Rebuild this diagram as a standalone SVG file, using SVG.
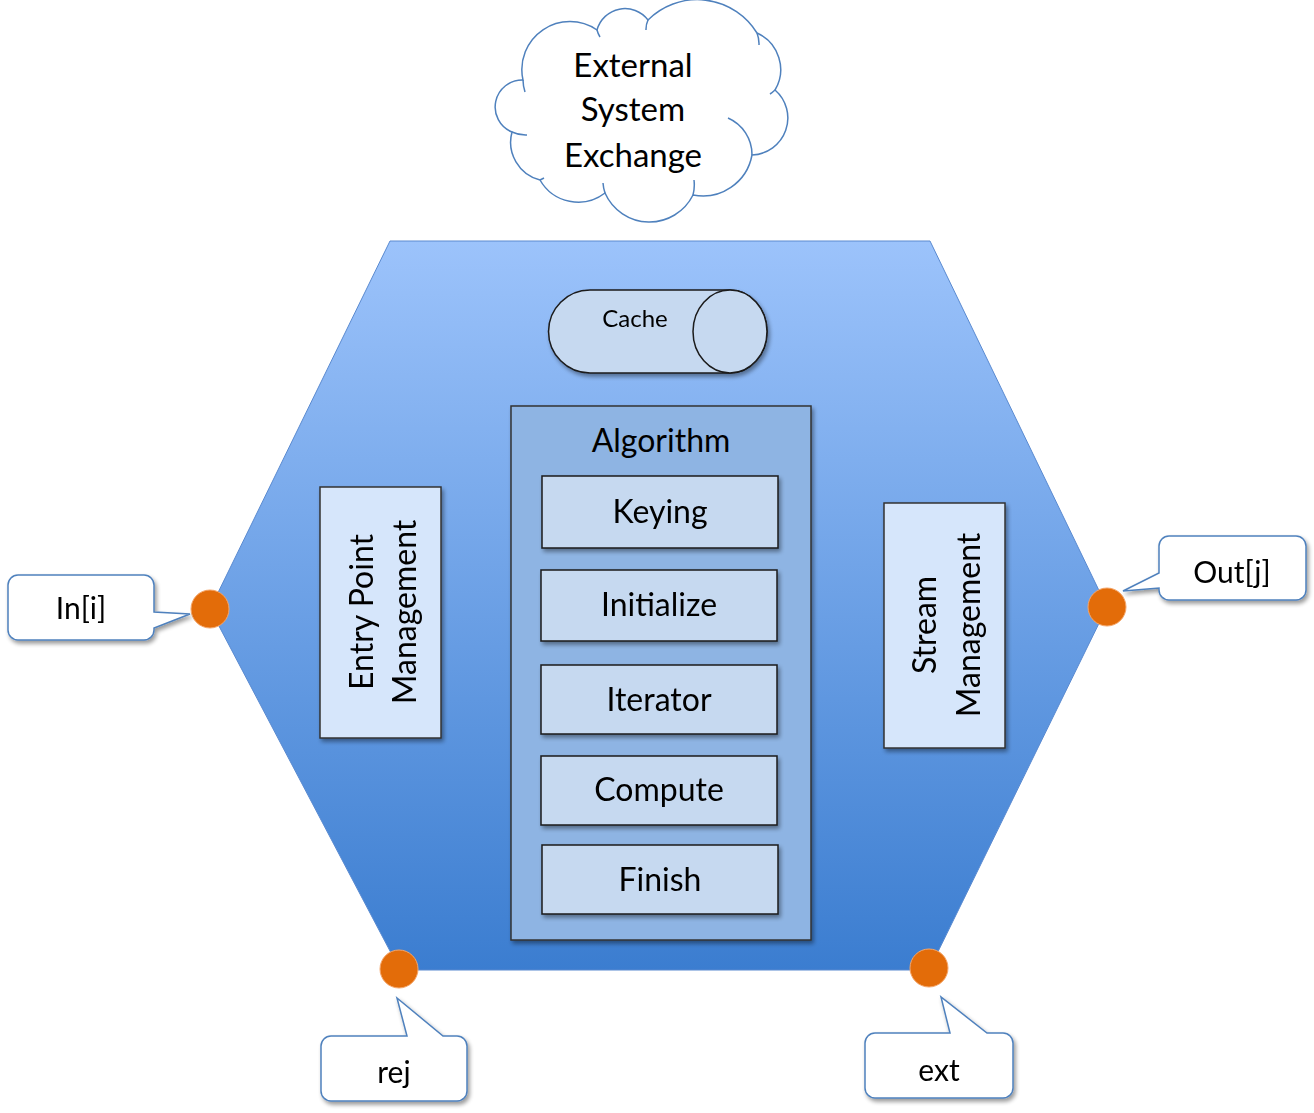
<svg xmlns="http://www.w3.org/2000/svg" width="1314" height="1113" viewBox="0 0 1314 1113">
<defs>
<linearGradient id="hexg" x1="0" y1="0" x2="0" y2="1">
<stop offset="0" stop-color="#9cc3fb"/>
<stop offset="1" stop-color="#3b7dd0"/>
</linearGradient>
<filter id="sh" x="-10%" y="-10%" width="130%" height="130%">
<feGaussianBlur in="SourceAlpha" stdDeviation="2"/>
<feOffset dx="2" dy="3"/>
<feComponentTransfer><feFuncA type="linear" slope="0.4"/></feComponentTransfer>
<feMerge><feMergeNode/><feMergeNode in="SourceGraphic"/></feMerge>
</filter>
<style>
text{font-family:"Lato","Open Sans","DejaVu Sans",sans-serif;fill:#000;text-anchor:middle}
.box{fill:#c6d9f0;stroke:#1a1a1a;stroke-width:1.5}
.side{fill:#d6e6fb;stroke:#333;stroke-width:1.5}
.call{fill:#fff;stroke:#4f81bd;stroke-width:1.5}
.dot{fill:#e36c09;stroke:#f5a66a;stroke-width:1}
.t30{font-size:30px}
.t32{font-size:32px}
</style>
</defs>
<rect width="1314" height="1113" fill="#fff"/>

<g id="hexagon">
<polygon points="390,241 930,241 1107,607 929,970 400,970 210,609" fill="url(#hexg)" stroke="#5a8ad0" stroke-width="1"/>
</g>

<g id="cloud">
<path d="M523,80 A48,48 0 0 1 597,30 A29,29 0 0 1 648,20 A70,70 0 0 1 757,33 A40,40 0 0 1 775,90 A37,37 0 0 1 752,155 A50,50 0 0 1 693,195 A48.6,48.6 0 0 1 605,193 A44,44 0 0 1 540,180 A39,39 0 0 1 512,132 A27,27 0 0 1 523,80 Z" fill="#fff" stroke="#4f81bd" stroke-width="1.5"/>
<path d="M523,80 A40,40 0 0 0 525,92 M597,30 A25,25 0 0 0 600,37 M648,20 A22,22 0 0 0 646,30 M757,33 A30,30 0 0 1 759,45 M775,90 A35,35 0 0 1 770,94 M728,118 A40,40 0 0 1 752,155 M693,195 A40,40 0 0 0 694,180 M605,193 A40,40 0 0 1 603,183 M540,180 A40,40 0 0 0 544,178 M512,132 A32,32 0 0 0 527,135" fill="none" stroke="#4f81bd" stroke-width="1.5"/>
<text x="633" y="77" font-size="33">External</text>
<text x="633" y="121" font-size="33">System</text>
<text x="633" y="167" font-size="33">Exchange</text>
</g>

<g id="cache" filter="url(#sh)">
<path d="M590,290 L730,290 A37,41.5 0 0 1 730,373 L590,373 A41.5,41.5 0 0 1 590,290 Z" class="box"/>
<ellipse cx="730" cy="331.5" rx="37" ry="41.5" class="box"/>
<text x="635" y="327" font-size="24">Cache</text>
</g>

<g id="algorithm">
<rect x="511" y="406" width="300" height="534" fill="#8eb4e3" stroke="#333" stroke-width="1.5" filter="url(#sh)"/>
<text x="661" y="452" class="t32">Algorithm</text>
</g>
<g id="keying" filter="url(#sh)"><rect x="542" y="476" width="236" height="72" class="box"/><text x="660" y="523" class="t32">Keying</text></g>
<g id="initialize" filter="url(#sh)"><rect x="541" y="570" width="236" height="71" class="box"/><text x="659" y="616" class="t32">Initialize</text></g>
<g id="iterator" filter="url(#sh)"><rect x="541" y="665" width="236" height="69" class="box"/><text x="659" y="711" class="t32">Iterator</text></g>
<g id="compute" filter="url(#sh)"><rect x="541" y="756" width="236" height="69" class="box"/><text x="659" y="801" class="t32">Compute</text></g>
<g id="finish" filter="url(#sh)"><rect x="542" y="845" width="236" height="69" class="box"/><text x="660" y="891" class="t32">Finish</text></g>

<g id="entry-point" filter="url(#sh)">
<rect x="320" y="487" width="121" height="251" class="side"/>
<text transform="translate(373,612) rotate(-90)" class="t32">Entry Point</text>
<text transform="translate(416,612) rotate(-90)" class="t32">Management</text>
</g>
<g id="stream" filter="url(#sh)">
<rect x="884" y="503" width="121" height="245" class="side"/>
<text transform="translate(936,625) rotate(-90)" class="t32">Stream</text>
<text transform="translate(980,625) rotate(-90)" class="t32">Management</text>
</g>

<g id="connectors">
<circle cx="210" cy="609" r="19" class="dot"/>
<circle cx="1107" cy="607" r="19" class="dot"/>
<circle cx="399" cy="969" r="19" class="dot"/>
<circle cx="929" cy="968" r="19" class="dot"/>
</g>

<g id="in-callout" filter="url(#sh)">
<path d="M18,575 H144 A10,10 0 0 1 154,585 V612 L190,614 L154,628 V630 A10,10 0 0 1 144,640 H18 A10,10 0 0 1 8,630 V585 A10,10 0 0 1 18,575 Z" class="call"/>
<text x="81" y="619" class="t30">In[i]</text>
</g>
<g id="out-callout" filter="url(#sh)">
<path d="M1169,536 H1296 A10,10 0 0 1 1306,546 V590 A10,10 0 0 1 1296,600 H1169 A10,10 0 0 1 1159,590 V588 L1123,591 L1159,573 V546 A10,10 0 0 1 1169,536 Z" class="call"/>
<text x="1232" y="583" class="t30">Out[j]</text>
</g>
<g id="rej-callout" filter="url(#sh)">
<path d="M331,1036 H407 L397,998 L443,1036 H457 A10,10 0 0 1 467,1046 V1091 A10,10 0 0 1 457,1101 H331 A10,10 0 0 1 321,1091 V1046 A10,10 0 0 1 331,1036 Z" class="call"/>
<text x="394" y="1083" class="t30">rej</text>
</g>
<g id="ext-callout" filter="url(#sh)">
<path d="M875,1033 H950 L941,997 L987,1033 H1003 A10,10 0 0 1 1013,1043 V1088 A10,10 0 0 1 1003,1098 H875 A10,10 0 0 1 865,1088 V1043 A10,10 0 0 1 875,1033 Z" class="call"/>
<text x="939" y="1081" class="t30">ext</text>
</g>
</svg>
